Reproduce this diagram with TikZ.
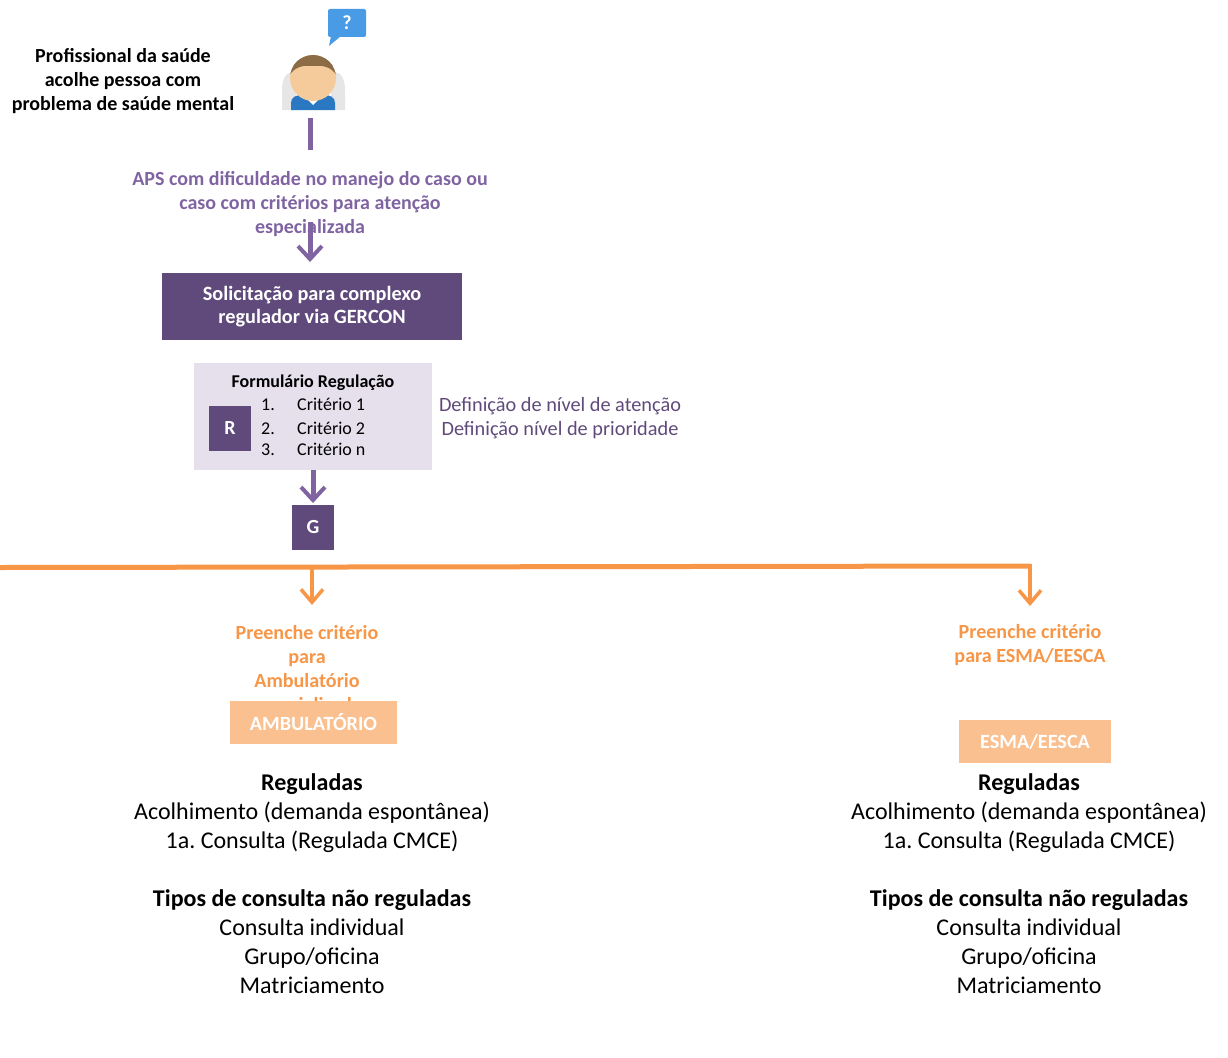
\documentclass[tikz,border=0pt]{standalone}
\usepackage{fontspec}
\setmainfont{Carlito}
\usetikzlibrary{arrows.meta}
\definecolor{pdark}{HTML}{604A7B}
\definecolor{pmid}{HTML}{8064A2}
\definecolor{plight}{HTML}{E5E0EC}
\definecolor{orng}{HTML}{F79646}
\definecolor{orlight}{HTML}{FAC090}
\definecolor{bubble}{HTML}{4A9BE6}
\definecolor{hair}{HTML}{8C6B47}
\definecolor{skin}{HTML}{F6CB9C}
\definecolor{shirt}{HTML}{2A78C2}
\definecolor{ghost}{HTML}{E6E6E6}
\begin{document}
\frenchspacing
\begin{tikzpicture}[x=1pt,y=-1pt,
  txt/.style={align=center,inner sep=0pt},
  darkbox/.style={fill=pdark,text=white,inner sep=0pt,font=\bfseries\fontsize{20.3}{23}\selectfont},
  letterbox/.style={fill=pdark,text=white,inner sep=0pt,minimum width=42pt,minimum height=45pt,font=\bfseries\fontsize{20}{24}\selectfont},
  orbox/.style={fill=orlight,text=white,inner sep=0pt,minimum height=43pt,font=\bfseries\fontsize{20.2}{23}\selectfont},
  orlabel/.style={txt,text=orng,font=\bfseries\fontsize{20.1}{24}\selectfont},
  bodytxt/.style={txt,font=\fontsize{24}{29}\selectfont},
  listtxt/.style={anchor=base west,inner sep=0pt,font=\fontsize{18}{20}\selectfont},
  purplearrow/.style={draw=pmid,line width=5pt,-{Straight Barb[length=13pt,width=24pt,line width=4pt]}},
  orangearrow/.style={draw=orng,line width=3.5pt,-{Straight Barb[length=13pt,width=22pt,line width=3.5pt]}},
]
\useasboundingbox (0,0) rectangle (1228,1057);

% ---------- person icon ----------
\coordinate (person) at (313,83);
\fill[ghost] (282,110) -- (282,90) .. controls (282,74) and (290,70) .. (296,74) -- (296,110) -- cycle;
\fill[ghost] (345,110) -- (345,90) .. controls (345,74) and (337,70) .. (331,74) -- (331,110) -- cycle;
\fill[shirt] (291,110) -- (291,103) .. controls (291,97) and (296,95) .. (302,95) -- (324,95) .. controls (330,95) and (335,97) .. (335,103) -- (335,110) -- cycle;
\fill[white] (303,95) -- (313,105) -- (323,95) -- cycle;
\fill[skin] (313,78) ellipse [x radius=23, y radius=23];
\begin{scope}
  \clip (313,78) ellipse [x radius=23, y radius=23];
  \fill[hair] (288,50) rectangle (338,66);
  \fill[hair] (288,80) .. controls (290,70) and (300,64) .. (313,66) .. controls (326,64) and (336,70) .. (338,80) -- (338,60) -- (288,60) -- cycle;
\end{scope}
% speech bubble
\fill[bubble,rounded corners=2pt] (328,9) rectangle (366,37);
\fill[bubble] (331,36) -- (329,46) -- (341,36) -- cycle;
\node[txt,text=white,font=\bfseries\fontsize{20}{22}\selectfont] (q) at (347,23) {?};

% ---------- top texts ----------
\node[txt,font=\bfseries\fontsize{20}{24}\selectfont] (prof) at (123,81)
  {Profissional da saúde\\acolhe pessoa com\\problema de saúde mental};
\node[txt,text=pmid,font=\bfseries\fontsize{20}{24}\selectfont] (aps) at (310,204)
  {APS com dificuldade no manejo do caso ou\\caso com critérios para atenção\\especializada};

\coordinate (l1a) at (310,118);
\coordinate (l1b) at (310,150);
\draw[pmid,line width=5pt] (l1a) -- (l1b);

% ---------- solicitacao ----------
\node[darkbox,minimum width=300pt,minimum height=67pt,align=center] (sol) at (312,306.5)
  {Solicitação para complexo\\regulador via GERCON};
\coordinate (a1) at (310,222);
\draw[purplearrow] (a1) -- (310,262);

% ---------- form ----------
\node[fill=plight,minimum width=238pt,minimum height=107pt,inner sep=0pt] (form) at (313,416.5) {};
\node[txt,font=\bfseries\fontsize{18}{20}\selectfont] (ftitle) at (313,383) {Formulário Regulação};
\foreach \n/\yy/\t in {1/410/Critério 1,2/434/Critério 2,3/455/Critério n}{
  \node[listtxt] (num\n) at (261,\yy) {\n.};
  \node[listtxt] (crit\n) at (297,\yy) {\t};
}
\node[letterbox] (R) at (230,428.5) {R};
\node[txt,text=pdark,font=\fontsize{20.3}{24}\selectfont] (def) at (560,418)
  {Definição de nível de atenção\\Definição nível de prioridade};

% ---------- G ----------
\node[letterbox] (G) at (313,527.5) {G};
\draw[purplearrow] (form.south) -- (313,503);

% ---------- orange branch ----------
\coordinate (ol) at (0,567.5);
\coordinate (om) at (312,567.5);
\coordinate (or) at (1030,566);
\draw[orng,line width=5pt] (ol) -- (or);
\draw[orangearrow] (om) -- (312,605);
\draw[orangearrow] (1030,564) -- (1030,606);

\node[orlabel] (prA) at (307,670) {Preenche critério\\para\\Ambulatório\\especializado};
\node[orlabel] (prE) at (1030,645) {Preenche critério\\para ESMA/EESCA};

\node[orbox,minimum width=167pt] (amb) at (313.5,722.5) {AMBULATÓRIO};
\node[orbox,minimum width=152pt] (esma) at (1035,741.5) {ESMA/EESCA};

% ---------- bottom texts ----------
\node[bodytxt] (txA) at (312,883.5)
  {\textbf{Reguladas}\\Acolhimento (demanda espontânea)\\1a. Consulta (Regulada CMCE)\\[29pt]\textbf{Tipos de consulta não reguladas}\\Consulta individual\\Grupo/oficina\\Matriciamento};
\node[bodytxt] (txE) at (1029,883.5)
  {\textbf{Reguladas}\\Acolhimento (demanda espontânea)\\1a. Consulta (Regulada CMCE)\\[29pt]\textbf{Tipos de consulta não reguladas}\\Consulta individual\\Grupo/oficina\\Matriciamento};
\end{tikzpicture}
\end{document}
